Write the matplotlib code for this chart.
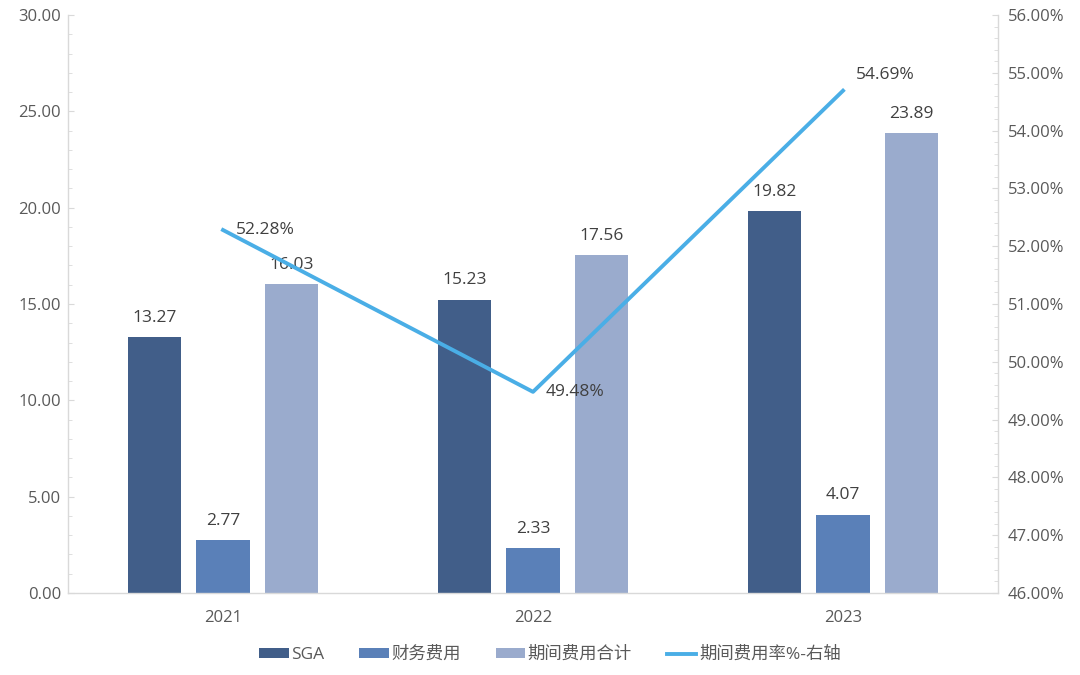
import matplotlib.pyplot as plt
import numpy as np
from matplotlib.ticker import MultipleLocator, FuncFormatter

plt.rcParams['font.family'] = ['Open Sans', 'Noto Sans CJK SC', 'DejaVu Sans']

years = ["2021", "2022", "2023"]
sga = [13.27, 15.23, 19.82]
finance = [2.77, 2.33, 4.07]
total = [16.03, 17.56, 23.89]
rate = [0.5228, 0.4948, 0.5469]

names = ["SGA", "财务费用", "期间费用合计", "期间费用率%-右轴"]
colors = ["#415E89", "#5A80B8", "#9AABCD"]
line_color = "#4AAEE6"
tick_color = "#595959"
label_color = "#404040"
spine_color = "#D9D9D9"

fig = plt.figure(figsize=(10.8, 6.75), dpi=100)
ax = fig.add_axes([68 / 1080, 1 - 593 / 675, 930 / 1080, 578 / 675])
ax2 = ax.twinx()

x = np.arange(len(years))
width = 0.174
step = 0.221

series = [sga, finance, total]
bars = []
for i, vals in enumerate(series):
    b = ax.bar(x + (i - 1) * step, vals, width, color=colors[i], label=names[i], zorder=2)
    bars.append(b)
    for xi, v in zip(x + (i - 1) * step, vals):
        ax.annotate(f"{v:.2f}", (xi, v), xytext=(0, 8), textcoords="offset points",
                    ha="center", va="bottom", fontsize=12.5, color=label_color)

ln, = ax2.plot(x, rate, color=line_color, lw=2.8, label=names[3], zorder=3)
offsets = [(9, 0), (9, 0), (9, 11)]
for xi, r, off in zip(x, rate, offsets):
    ax2.annotate(f"{r * 100:.2f}%", (xi, r), xytext=off, textcoords="offset points",
                 ha="left", va="center", fontsize=12.5, color=label_color)

ax.set_xlim(-0.5, 2.5)
ax.set_ylim(0, 30)
ax.yaxis.set_major_locator(MultipleLocator(5))
ax.yaxis.set_minor_locator(MultipleLocator(1))
ax.yaxis.set_major_formatter(FuncFormatter(lambda v, p: f"{v:.2f}"))
ax2.set_ylim(0.46, 0.56)
ax2.yaxis.set_major_locator(MultipleLocator(0.01))
ax2.yaxis.set_minor_locator(MultipleLocator(0.002))
ax2.yaxis.set_major_formatter(FuncFormatter(lambda v, p: f"{v * 100:.2f}%"))

ax.set_xticks(x)
ax.set_xticklabels(years)

for a in (ax, ax2):
    a.spines['top'].set_visible(False)
    for s in ('left', 'right', 'bottom'):
        a.spines[s].set_color(spine_color)
        a.spines[s].set_linewidth(1.0)
    a.tick_params(axis='y', which='both', direction='in', color=spine_color,
                  labelcolor=tick_color, labelsize=12)
    a.tick_params(axis='y', which='major', length=4)
    a.tick_params(axis='y', which='minor', length=3)
ax.tick_params(axis='y', which='major', pad=5)
ax2.tick_params(axis='y', which='major', pad=7)
ax.tick_params(axis='x', length=0, pad=12, labelcolor=tick_color, labelsize=12)
ax.spines['right'].set_visible(False)
ax2.spines['left'].set_visible(False)
ax2.spines['bottom'].set_visible(False)

handles = bars + [ln]
fig.legend(handles, names, loc="center", bbox_to_anchor=(550 / 1080, 1 - 655 / 675),
           ncol=4, frameon=False, fontsize=12.5, handlelength=1.7, handleheight=0.45,
           handletextpad=0.15, columnspacing=2.0, labelcolor=tick_color)

fig.savefig("out.png", dpi=100)
